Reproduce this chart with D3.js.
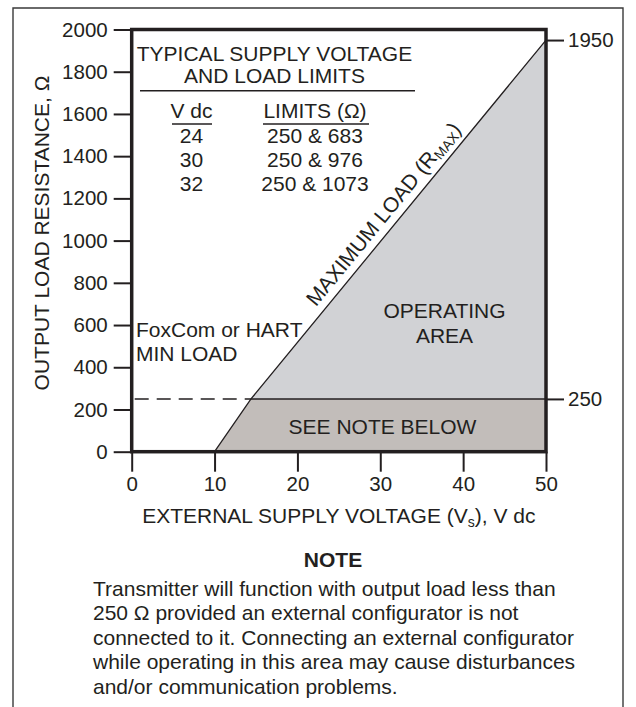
<!DOCTYPE html>
<html>
<head>
<meta charset="utf-8">
<script src="https://cdn.jsdelivr.net/npm/d3@7"></script>
<style>
    body { margin: 0; background: #fff; }
    svg text { font-family: "Liberation Sans", Arial, sans-serif; fill: #231f20; }
</style>
</head>
<body>
<div id="load-chart"></div>
<script>

// data
const voltageTicks = [0, 10, 20, 30, 40, 50];
const resistanceTicks = [0, 200, 400, 600, 800, 1000, 1200, 1400, 1600, 1800, 2000];
const markedLoads = [1950, 250];
const maxLoadVoltage = [10, 14.4, 50];
const maxLoadResistance = [0, 250, 1950];
const minLoad = 250;
const tableVoltages = ["24", "30", "32"];
const tableLimits = ["250 & 683", "250 & 976", "250 & 1073"];
const noteLines = [
    "Transmitter will function with output load less than",
    "250 \u03A9 provided an external configurator is not",
    "connected to it. Connecting an external configurator",
    "while operating in this area may cause disturbances",
    "and/or communication problems."
];


class LoadChart {

    constructor(parentElement) {
        this.parentElement = parentElement;
        this.initVis();
    }

    initVis() {
        let vis = this;

        vis.width = 636;
        vis.height = 707;
        vis.margin = {top: 29.5, right: 90, bottom: 255.3, left: 131.7};
        vis.fontSize = "21px";

        vis.svg = d3.select("#" + vis.parentElement).append("svg")
            .attr("width", vis.width)
            .attr("height", vis.height);

        vis.x = d3.scaleLinear()
            .domain([0, 50])
            .range([vis.margin.left, vis.width - vis.margin.right]);

        vis.y = d3.scaleLinear()
            .domain([0, 2000])
            .range([vis.height - vis.margin.bottom, vis.margin.top]);

        // outer frame, open at the bottom
        vis.svg.append("path")
            .attr("d", "M13,707 V8 H623 V707")
            .attr("fill", "none")
            .attr("stroke", "#3a3a3a")
            .attr("stroke-width", 1.4);

        vis.wrangleData();
    }

    wrangleData() {
        let vis = this;

        vis.maxLoad = maxLoadVoltage.map((v, i) => ({v: v, r: maxLoadResistance[i]}));
        vis.crossV = maxLoadVoltage[maxLoadResistance.indexOf(minLoad)];

        vis.operating = [
            {v: vis.crossV, r: minLoad},
            {v: 50, r: 1950},
            {v: 50, r: minLoad}
        ];
        vis.belowMin = [
            {v: maxLoadVoltage[0], r: 0},
            {v: vis.crossV, r: minLoad},
            {v: 50, r: minLoad},
            {v: 50, r: 0}
        ];

        vis.updateVis();
    }

    updateVis() {
        let vis = this;
        let x = vis.x, y = vis.y;

        let line = d3.line().x(d => x(d.v)).y(d => y(d.r));

        // shaded areas
        vis.svg.append("path")
            .attr("d", line(vis.operating) + "Z")
            .attr("fill", "#d1d2d5");
        vis.svg.append("path")
            .attr("d", line(vis.belowMin) + "Z")
            .attr("fill", "#c2bdba");

        // max load line
        vis.svg.append("path")
            .attr("d", line(vis.maxLoad))
            .attr("fill", "none")
            .attr("stroke", "#231f20")
            .attr("stroke-width", 1.3);

        // 250 ohm min load: dashed left of the line, solid inside
        vis.svg.append("line")
            .attr("x1", x(0) + 3).attr("x2", x(vis.crossV))
            .attr("y1", y(minLoad)).attr("y2", y(minLoad))
            .attr("stroke", "#231f20")
            .attr("stroke-width", 1.6)
            .attr("stroke-dasharray", "14,8");
        vis.svg.append("line")
            .attr("x1", x(vis.crossV)).attr("x2", x(50))
            .attr("y1", y(minLoad)).attr("y2", y(minLoad))
            .attr("stroke", "#231f20")
            .attr("stroke-width", 1.6);

        // axes
        let styleAxis = g => {
            g.select(".domain").remove();
            g.selectAll(".tick line").attr("stroke", "#231f20").attr("stroke-width", 2);
            g.selectAll(".tick text")
                .style("font-size", "20.5px")
                .style("font-family", "\"Liberation Sans\", Arial, sans-serif")
                .attr("fill", "#231f20");
        };

        vis.svg.append("g")
            .attr("transform", "translate(" + x(0) + ",0)")
            .call(d3.axisLeft(y).tickValues(resistanceTicks).tickFormat(d3.format("d"))
                .tickSize(18).tickPadding(6))
            .call(styleAxis);

        vis.svg.append("g")
            .attr("transform", "translate(0," + y(0) + ")")
            .call(d3.axisBottom(x).tickValues(voltageTicks).tickFormat(d3.format("d"))
                .tickSize(20).tickPadding(5))
            .call(styleAxis);

        vis.svg.append("g")
            .attr("transform", "translate(" + x(50) + ",0)")
            .call(d3.axisRight(y).tickValues(markedLoads).tickFormat(d3.format("d"))
                .tickSize(18).tickPadding(4))
            .call(styleAxis);

        // plot frame
        vis.svg.append("rect")
            .attr("x", x(0)).attr("y", y(2000))
            .attr("width", x(50) - x(0))
            .attr("height", y(0) - y(2000))
            .attr("fill", "none")
            .attr("stroke", "#231f20")
            .attr("stroke-width", 3.5);

        // axis titles
        vis.svg.append("text")
            .attr("transform", "translate(48.5,233) rotate(-90)")
            .attr("text-anchor", "middle")
            .style("font-size", vis.fontSize)
            .text("OUTPUT LOAD RESISTANCE, \u03A9");

        let xTitle = vis.svg.append("text")
            .attr("x", (x(0) + x(50)) / 2)
            .attr("y", 522.7)
            .attr("text-anchor", "middle")
            .style("font-size", vis.fontSize);
        xTitle.append("tspan").text("EXTERNAL SUPPLY VOLTAGE (V");
        xTitle.append("tspan").attr("dy", 4).style("font-size", "14px").text("s");
        xTitle.append("tspan").attr("dy", -4).text("), V dc");

        // supply voltage table
        let table = vis.svg.append("g").style("font-size", vis.fontSize);
        table.append("text").attr("x", 274.5).attr("y", 60.7).attr("text-anchor", "middle")
            .text("TYPICAL SUPPLY VOLTAGE");
        table.append("text").attr("x", 274.5).attr("y", 83.3).attr("text-anchor", "middle")
            .text("AND LOAD LIMITS");
        table.append("line").attr("x1", 140).attr("x2", 415).attr("y1", 90.7).attr("y2", 90.7)
            .attr("stroke", "#231f20").attr("stroke-width", 1.5);

        table.append("text").attr("x", 191.5).attr("y", 118.3).attr("text-anchor", "middle").text("V dc");
        table.append("text").attr("x", 315).attr("y", 118.3).attr("text-anchor", "middle").text("LIMITS (\u03A9)");
        table.append("line").attr("x1", 172).attr("x2", 212).attr("y1", 124).attr("y2", 124)
            .attr("stroke", "#231f20").attr("stroke-width", 1.5);
        table.append("line").attr("x1", 263).attr("x2", 369).attr("y1", 124).attr("y2", 124)
            .attr("stroke", "#231f20").attr("stroke-width", 1.5);

        table.selectAll(".vdc")
            .data(tableVoltages)
            .enter().append("text")
            .attr("class", "vdc")
            .attr("x", 191.5)
            .attr("y", (d, i) => 143.3 + i * 24)
            .attr("text-anchor", "middle")
            .text(d => d);

        table.selectAll(".limit")
            .data(tableLimits)
            .enter().append("text")
            .attr("class", "limit")
            .attr("x", 315)
            .attr("y", (d, i) => 143.3 + i * 24)
            .attr("text-anchor", "middle")
            .text(d => d);

        // area labels
        let labels = vis.svg.append("g").style("font-size", vis.fontSize);
        labels.append("text").attr("x", 136).attr("y", 337.3).text("FoxCom or HART");
        labels.append("text").attr("x", 136).attr("y", 360.7).text("MIN LOAD");
        labels.append("text").attr("x", 444.5).attr("y", 318.3).attr("text-anchor", "middle").text("OPERATING");
        labels.append("text").attr("x", 444.5).attr("y", 342.7).attr("text-anchor", "middle").text("AREA");
        labels.append("text").attr("x", 382.5).attr("y", 434.3).attr("text-anchor", "middle").text("SEE NOTE BELOW");

        // label along the max load line
        let p0 = [x(vis.crossV), y(minLoad)], p1 = [x(50), y(1950)];
        let len = Math.hypot(p1[0] - p0[0], p1[1] - p0[1]);
        let ux = (p1[0] - p0[0]) / len, uy = (p1[1] - p0[1]) / len;
        let angle = Math.atan2(uy, ux) * 180 / Math.PI;
        let along = 112, off = 8;
        let lx = p0[0] + ux * along + uy * off;
        let ly = p0[1] + uy * along - ux * off;

        let rmax = labels.append("text")
            .attr("transform", "translate(" + lx + "," + ly + ") rotate(" + angle + ")");
        rmax.append("tspan").text("MAXIMUM LOAD (R");
        rmax.append("tspan").attr("dy", 3).style("font-size", "14px").text("MAX");
        rmax.append("tspan").attr("dy", -3).text(")");

        // note below the chart
        vis.svg.append("text")
            .attr("x", 333).attr("y", 567)
            .attr("text-anchor", "middle")
            .style("font-size", vis.fontSize)
            .style("font-weight", "bold")
            .text("NOTE");

        vis.svg.selectAll(".note-line")
            .data(noteLines)
            .enter().append("text")
            .attr("class", "note-line")
            .attr("x", 93)
            .attr("y", (d, i) => 596 + i * 24.4)
            .style("font-size", vis.fontSize)
            .text(d => d);
    }
}

new LoadChart("load-chart");

</script>
</body>
</html>
